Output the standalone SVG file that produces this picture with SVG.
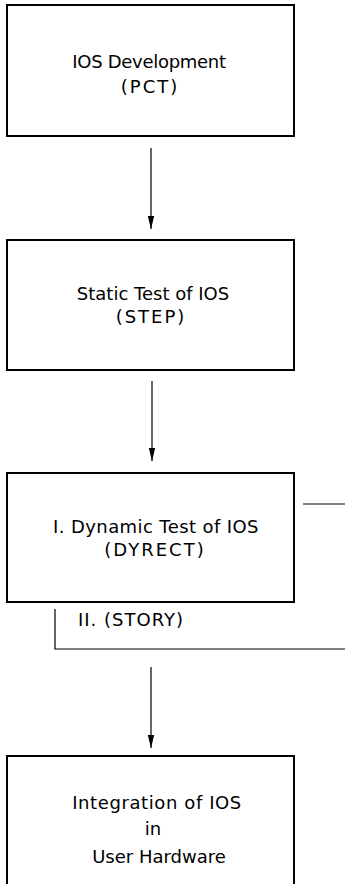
<svg xmlns="http://www.w3.org/2000/svg" width="345" height="884" viewBox="0 0 345 884">
<defs>
<marker id="ah" markerWidth="14" markerHeight="8" refX="13" refY="4" orient="auto" markerUnits="userSpaceOnUse" viewBox="0 0 14 8">
<path d="M0,0.8 L13,4 L0,7.2 Z" fill="#000"/>
</marker>
<style>
.box{fill:#fff;stroke:#000;stroke-width:2}
.t{font-family:"DejaVu Sans","Liberation Sans",sans-serif;font-size:18px;fill:#000;text-anchor:middle}
.ln{stroke:#000;stroke-width:1.2;fill:none}
</style>
</defs>
<rect width="345" height="884" fill="#fff"/>
<g id="n1">
<rect class="box" x="7" y="5" width="287" height="131"/>
<text class="t" x="149" y="68" letter-spacing="-0.3">IOS Development</text>
<text class="t" x="150" y="93" letter-spacing="2">(PCT)</text>
</g>
<g id="n2">
<rect class="box" x="7" y="240" width="287" height="130"/>
<text class="t" x="153" y="300">Static Test of IOS</text>
<text class="t" x="151" y="323" letter-spacing="2">(STEP)</text>
</g>
<g id="n3">
<rect class="box" x="7" y="473" width="287" height="129"/>
<text class="t" x="156" y="533" letter-spacing="0.4">I. Dynamic Test of IOS</text>
<text class="t" x="155" y="556" letter-spacing="2">(DYRECT)</text>
</g>
<g id="n4">
<rect class="box" x="7" y="756" width="287" height="140"/>
<text class="t" x="157" y="809" letter-spacing="0.6">Integration of IOS</text>
<text class="t" x="153" y="835">in</text>
<text class="t" x="159" y="863">User Hardware</text>
</g>
<g id="label">
<text class="t" x="78" y="626" style="text-anchor:start" letter-spacing="1">II. (STORY)</text>
</g>
<g id="connectors">
<line class="ln" x1="151" y1="148" x2="151" y2="229" marker-end="url(#ah)"/>
<line class="ln" x1="152" y1="381" x2="152" y2="461" marker-end="url(#ah)"/>
<line class="ln" x1="151" y1="667" x2="151" y2="748" marker-end="url(#ah)"/>
<line class="ln" x1="303" y1="504" x2="345" y2="504"/>
<polyline class="ln" points="55,609 55,649 345,649"/>
</g>
</svg>
